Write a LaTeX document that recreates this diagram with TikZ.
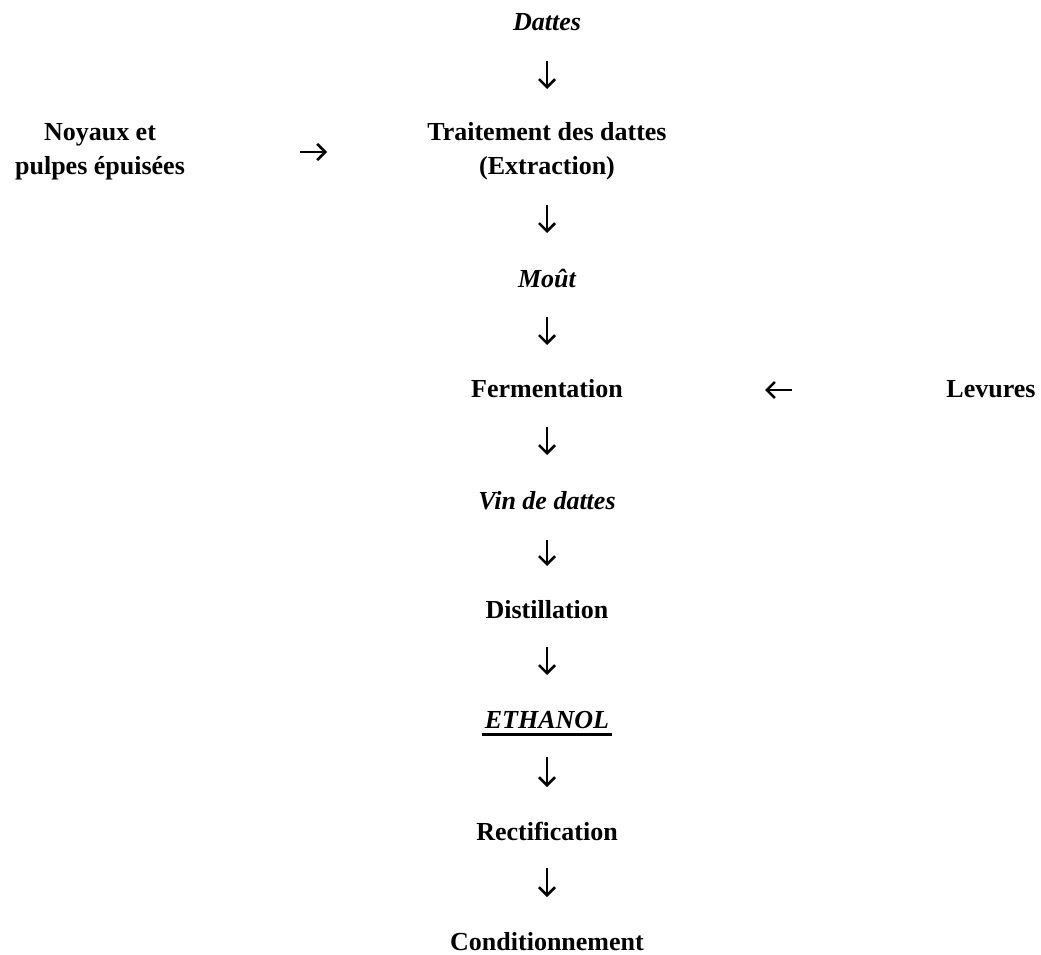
\documentclass[tikz,border=0pt]{standalone}
\usepackage{fontspec}
\setmainfont{Liberation Serif}
\usetikzlibrary{arrows.meta}
\tikzset{
  lbl/.style={font=\fontsize{26}{35}\selectfont\bfseries, inner sep=0pt, anchor=base},
  prod/.style={lbl, font=\fontsize{26}{35}\selectfont\bfseries\itshape},
  flow/.style={line width=2.6pt, -{Straight Barb[length=8pt,width=16pt,line width=2.6pt]}},
}
\newcommand{\twolines}[2]{\setlength{\tabcolsep}{0pt}\begin{tabular}[t]{c}#1\\#2\end{tabular}}
\begin{document}
\begin{tikzpicture}[x=1pt,y=-1pt]
\fill[white] (0,0) rectangle (1041,955);
\useasboundingbox (0,0) rectangle (1041,955);

\node[prod] (dattes) at (547,31) {Dattes};
\node[lbl] (trait) at (547,140) {\twolines{Traitement des dattes}{(Extraction)}};
\node[lbl] (noy) at (100,140) {\twolines{Noyaux et}{pulpes épuisées}};
\node[prod] (mout) at (547,287) {Moût};
\node[lbl] (ferm) at (547,397) {Fermentation};
\node[lbl] (lev) at (991,397) {Levures};
\node[prod] (vin) at (547,509) {Vin de dattes};
\node[lbl] (dist) at (547,618) {Distillation};
\node[prod] (eth) at (547,728) {ETHANOL};
\node[lbl] (rect) at (547,840) {Rectification};
\node[lbl] (cond) at (547,950) {Conditionnement};

\draw[line width=2.6pt] ([yshift=-6.5pt,xshift=-3pt]eth.base west) -- ([yshift=-6.5pt,xshift=3pt]eth.base east);

\draw[flow, shorten <=30pt, shorten >=51pt] (dattes.base) -- (trait.base);
\draw[flow, shorten <=65pt, shorten >=54pt] (trait.base) -- (mout.base);
\draw[flow, shorten <=30pt, shorten >=52pt] (mout.base) -- (ferm.base);
\draw[flow, shorten <=30pt, shorten >=54pt] (ferm.base) -- (vin.base);
\draw[flow, shorten <=31pt, shorten >=52pt] (vin.base) -- (dist.base);
\draw[flow, shorten <=29pt, shorten >=53pt] (dist.base) -- (eth.base);
\draw[flow, shorten <=29pt, shorten >=53pt] (eth.base) -- (rect.base);
\draw[flow, shorten <=28pt, shorten >=53pt] (rect.base) -- (cond.base);

\draw[flow, shorten <=200pt, shorten >=220pt] ([yshift=-12pt]noy.base) -- ([yshift=-12pt]trait.base);
\draw[flow, shorten <=199pt, shorten >=218pt] ([yshift=7pt]lev.base) -- ([yshift=7pt]ferm.base);
\end{tikzpicture}
\end{document}
